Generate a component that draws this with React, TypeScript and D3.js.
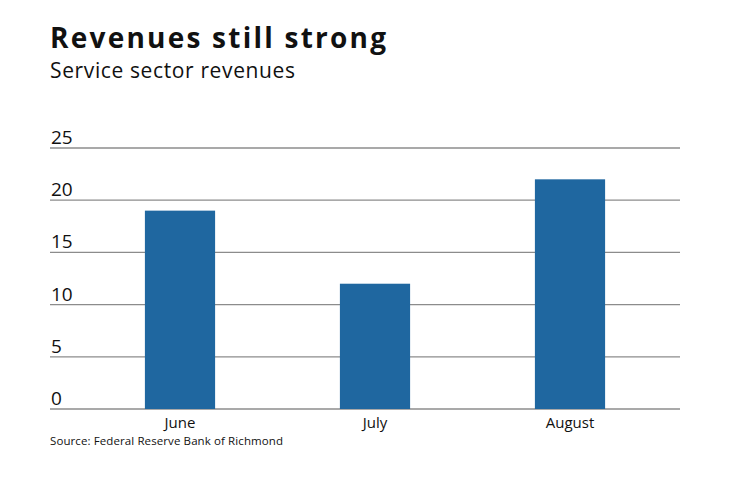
import React from 'react';
import * as d3 from 'd3';

const categories = ['June', 'July', 'August'];
const values = [19, 12, 22];
const yTicks = [0, 5, 10, 15, 20, 25];

const W = 740;
const H = 482;
const FONT = '"Open Sans", Lato, sans-serif';

export default function App() {
  const left = 50;
  const right = 680;
  const top = 148;
  const bottom = 409;

  const x = d3.scaleBand<string>().domain(categories).range([82.5, 667.5]).paddingInner(0.64).paddingOuter(0.32);
  const y = d3.scaleLinear().domain([0, 25]).range([bottom, top]);

  return (
    <svg width={W} height={H} style={{ position: 'absolute', left: 0, top: 0, background: '#fff' }}>
      <text x={50} y={48} fontFamily={FONT} fontWeight={700} fontSize={28} fill="#111" textLength={336} lengthAdjust="spacing">
        Revenues still strong
      </text>
      <text x={50} y={78} fontFamily={FONT} fontSize={21} fill="#111" textLength={245} lengthAdjust="spacing">
        Service sector revenues
      </text>

      {yTicks.map(t => (
        <g key={t}>
          <line x1={left} x2={right} y1={y(t)} y2={y(t)} stroke="#8c8c8c" strokeWidth={1.3} />
          <text x={51} y={y(t) - 4} fontFamily={FONT} fontSize={19} fill="#111">
            {t}
          </text>
        </g>
      ))}

      {categories.map((c, i) => (
        <rect key={c} x={x(c)} width={x.bandwidth()} y={y(values[i])} height={y(0) - y(values[i])} fill="#1f67a0" />
      ))}

      {categories.map(c => (
        <text key={c} x={(x(c) ?? 0) + x.bandwidth() / 2} y={428} textAnchor="middle" fontFamily={FONT} fontSize={15} fill="#111">
          {c}
        </text>
      ))}

      <text x={50} y={445} fontFamily={FONT} fontSize={11.5} fill="#111" textLength={233} lengthAdjust="spacing">
        Source: Federal Reserve Bank of Richmond
      </text>
    </svg>
  );
}
